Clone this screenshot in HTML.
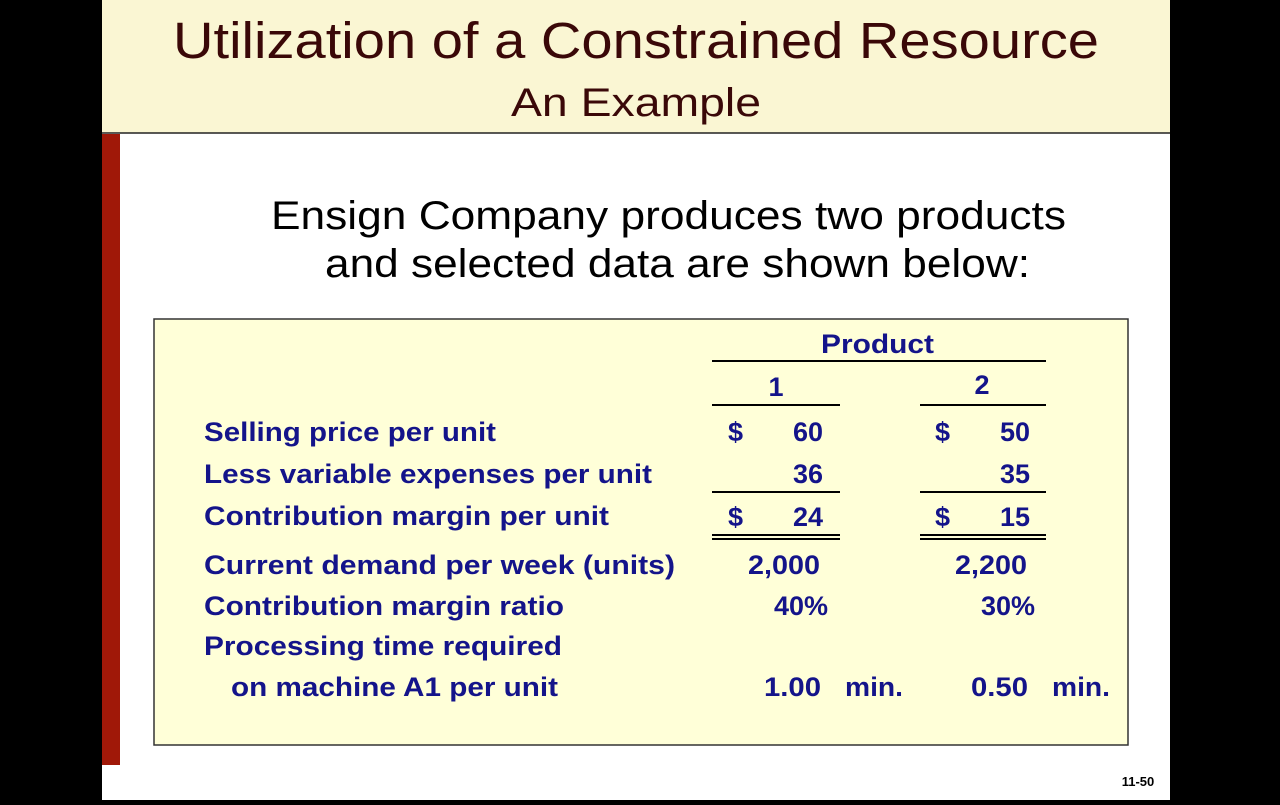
<!DOCTYPE html>
<html><head><style>body{margin:0;background:#000;width:1280px;height:800px;overflow:hidden}</style></head>
<body>
<svg width="1280" height="800" xmlns="http://www.w3.org/2000/svg" font-family="Liberation Sans, Arial, sans-serif">
<rect width="1280" height="800" fill="#000"/>
<rect x="102" y="0" width="1068" height="800" fill="#fff"/>
<rect x="102" y="0" width="1068" height="133" fill="#FAF6D3"/>
<line x1="102" y1="133" x2="1170" y2="133" stroke="#222" stroke-width="1.5"/>
<rect x="102" y="134" width="18" height="631" fill="#A01808"/>
<text x="636" y="58" text-anchor="middle" font-size="51" fill="#3a0808" textLength="926" lengthAdjust="spacingAndGlyphs">Utilization of a Constrained Resource</text>
<text x="636" y="116" text-anchor="middle" font-size="40" fill="#3a0808" textLength="250" lengthAdjust="spacingAndGlyphs">An Example</text>
<text x="271" y="229" font-size="40" fill="#000" textLength="795" lengthAdjust="spacingAndGlyphs">Ensign Company produces two products</text>
<text x="325" y="277" font-size="40" fill="#000" textLength="705" lengthAdjust="spacingAndGlyphs">and selected data are shown below:</text>
<rect x="154" y="319" width="974" height="426" fill="#FFFFD8" stroke="#333" stroke-width="1.5"/>
<g fill="#14148A" font-weight="bold" font-size="27">
<text x="821" y="353" textLength="113" lengthAdjust="spacingAndGlyphs">Product</text>
<text x="776" y="396" text-anchor="middle">1</text>
<text x="982" y="394" text-anchor="middle">2</text>
<text x="204" y="441" textLength="292" lengthAdjust="spacingAndGlyphs">Selling price per unit</text>
<text x="204" y="483" textLength="448" lengthAdjust="spacingAndGlyphs">Less variable expenses per unit</text>
<text x="204" y="525" textLength="405" lengthAdjust="spacingAndGlyphs">Contribution margin per unit</text>
<text x="204" y="574" textLength="471" lengthAdjust="spacingAndGlyphs">Current demand per week (units)</text>
<text x="204" y="615" textLength="360" lengthAdjust="spacingAndGlyphs">Contribution margin ratio</text>
<text x="204" y="655" textLength="358" lengthAdjust="spacingAndGlyphs">Processing time required</text>
<text x="231" y="696" textLength="327" lengthAdjust="spacingAndGlyphs">on machine A1 per unit</text>
<text x="728" y="441">$</text><text x="823" y="441" text-anchor="end">60</text>
<text x="935" y="441">$</text><text x="1030" y="441" text-anchor="end">50</text>
<text x="823" y="483" text-anchor="end">36</text>
<text x="1030" y="483" text-anchor="end">35</text>
<text x="728" y="526">$</text><text x="823" y="526" text-anchor="end">24</text>
<text x="935" y="526">$</text><text x="1030" y="526" text-anchor="end">15</text>
<text x="748" y="574" textLength="72" lengthAdjust="spacingAndGlyphs">2,000</text>
<text x="955" y="574" textLength="72" lengthAdjust="spacingAndGlyphs">2,200</text>
<text x="828" y="615" text-anchor="end">40%</text>
<text x="1035" y="615" text-anchor="end">30%</text>
<text x="764" y="696" textLength="57" lengthAdjust="spacingAndGlyphs">1.00</text>
<text x="845" y="696" textLength="58" lengthAdjust="spacingAndGlyphs">min.</text>
<text x="971" y="696" textLength="57" lengthAdjust="spacingAndGlyphs">0.50</text>
<text x="1052" y="696" textLength="58" lengthAdjust="spacingAndGlyphs">min.</text>
</g>
<g stroke="#000" stroke-width="2">
<line x1="712" y1="361" x2="1046" y2="361"/>
<line x1="712" y1="405" x2="840" y2="405"/><line x1="920" y1="405" x2="1046" y2="405"/>
<line x1="712" y1="492" x2="840" y2="492"/><line x1="920" y1="492" x2="1046" y2="492"/>
<line x1="712" y1="535" x2="840" y2="535"/><line x1="920" y1="535" x2="1046" y2="535"/>
<line x1="712" y1="539" x2="840" y2="539"/><line x1="920" y1="539" x2="1046" y2="539"/>
</g>
<text x="1138" y="786" text-anchor="middle" font-size="13" font-weight="bold" fill="#000">11-50</text>
</svg>
</body></html>
